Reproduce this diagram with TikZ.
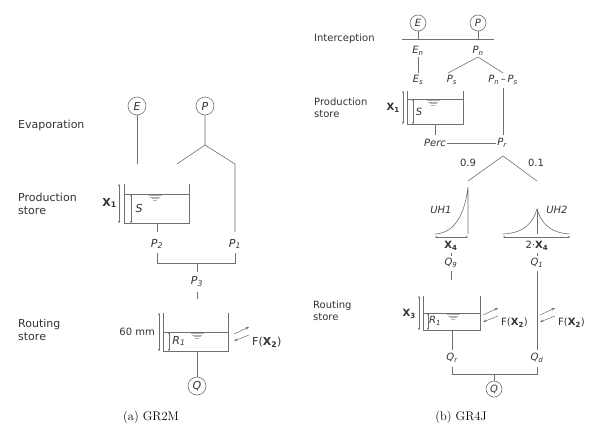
\documentclass[tikz,border=0pt]{standalone}
\usepackage{fontspec}
\newfontfamily\dvs{DejaVu Sans}
\usetikzlibrary{arrows.meta}
\definecolor{lc}{HTML}{707070}
\definecolor{tc}{HTML}{333333}
\newcommand\bX[1]{\textbf{X\textsubscript{#1}}}
\newcommand\iv[2]{\textit{#1\textsubscript{#2}}}
\tikzset{
  ln/.style={draw=lc, line width=0.6pt},
  dim/.style={ln, {Stealth[length=2pt,width=2pt]}-{Stealth[length=2pt,width=2pt]}},
  fa/.style={draw=lc, line width=0.5pt, -{Stealth[length=3.5pt,width=2.6pt]}},
  lblA/.style={text=tc, inner sep=0pt, font=\dvs\fontsize{11}{12.5}\selectfont},
  lblB/.style={text=tc, inner sep=0pt, font=\dvs\fontsize{10}{11.5}\selectfont},
  circA/.style={circle, ln, minimum size=18pt, inner sep=0pt, text=tc, font=\dvs\itshape\fontsize{11}{12}\selectfont},
  circB/.style={circle, ln, minimum size=16pt, inner sep=0pt, text=tc, font=\dvs\itshape\fontsize{10}{11}\selectfont},
  captext/.style={inner sep=0pt, font=\fontsize{12.5}{14}\selectfont},
  wat/.style={draw=gray!60, line width=0.9pt}
}
\newcommand\water[2]{%
  \draw[wat] (#1-6.5,#2+1.5) -- (#1+6.5,#2+1.5);
  \draw[wat] (#1-5,#2+3) -- (#1+5,#2+3);
  \draw[wat] (#1-3.5,#2+4.5) -- (#1+3.5,#2+4.5);
  \draw[wat] (#1-2,#2+6) -- (#1+2,#2+6);}
\begin{document}
\begin{tikzpicture}[x=1pt,y=-1pt]
\path[use as bounding box, fill=white] (0,0) rectangle (589,429);

% ===================== (a) GR2M =====================
\node[lblA, anchor=west] (evap) at (18,125) {Evaporation};
\node[lblA, anchor=west, align=left] (prodA) at (18,204) {Production\\store};
\node[lblA, anchor=west, align=left] (routA) at (18,330) {Routing\\store};

\node[circA] (EA) at (137,106) {E};
\node[circA] (PA) at (205,106) {P};
\coordinate (EAend) at (137,164);
\draw[ln] (EA) -- (EAend);
\coordinate (JA) at (205,145);
\coordinate (JAl) at (177,164);
\coordinate (JAr) at (235,164);
\coordinate (P1top) at (235,232);
\draw[ln] (PA) -- (JA) -- (JAl);
\draw[ln] (JA) -- (JAr) -- (P1top);

% production store
\draw[ln] (124,184) -- (124,223) -- (189,223) -- (189,184);
\draw[ln] (124,194) -- (189,194);
\draw[dim] (131,194) -- (131,223);
\draw[dim] (119,184) -- (119,223);
\node[lblA, anchor=east] (X1A) at (117,203) {\bX{1}};
\node[lblA] (SA) at (139,208) {\itshape S};
\water{155}{194}

\node[lblA] (P2A) at (157,244) {\iv{P}{2}};
\node[lblA] (P1A) at (235,244) {\iv{P}{1}};
\node[lblA] (P3A) at (197,282) {\iv{P}{3}};
\coordinate (storeAout) at (157,223);
\coordinate (P2Atop) at (157,232);
\draw[ln] (storeAout) -- (P2Atop);
\coordinate (P2Abot) at (157,253);
\coordinate (P1Abot) at (235,253);
\draw[ln] (P2Abot) -- (157,263) -- (235,263) -- (P1Abot);
\draw[ln] (197,263) -- (197,272);
\draw[ln] (197,292) -- (197,299);

% routing store
\draw[ln] (163,313) -- (163,351) -- (228,351) -- (228,313);
\draw[ln] (163,332) -- (228,332);
\draw[dim] (169,332) -- (169,351);
\draw[dim] (159,313) -- (159,351);
\node[lblA, anchor=east, font=\dvs\fontsize{10}{11}\selectfont] (mmA) at (155,332) {60 mm};
\node[lblA] (R1A) at (179,341) {\iv{R}{1}};
\water{197}{332}
\draw[fa] (234,334) -- (249,327);
\draw[fa] (249,335) -- (234,341);
\node[lblA, anchor=west] (FA) at (252,342) {F(\bX{2})};

\node[circA] (QA) at (197,386) {Q};
\coordinate (storeAout2) at (197,351);
\draw[ln] (storeAout2) -- (QA);

\node[captext] (capA) at (151,417) {(a) GR2M};

% ===================== (b) GR4J =====================
\node[lblB, anchor=west] (inter) at (314,39) {Interception};
\node[lblB, anchor=west, align=left] (prodB) at (314,108) {Production\\store};
\node[lblB, anchor=west, align=left] (routB) at (313,311) {Routing\\store};

\node[circB] (EB) at (418,23) {E};
\node[circB] (PB) at (478,23) {P};
\coordinate (ILl) at (402,39);
\coordinate (ILr) at (494,39);
\draw[ln] (ILl) -- (ILr);
\draw[ln] (EB) -- (418,39);
\draw[ln] (PB) -- (478,39);

\node[lblB] (En) at (418,51) {\iv{E}{n}};
\node[lblB] (Pn) at (478,51) {\iv{P}{n}};
\draw[ln] (418,57) -- (418,73);
\node[lblB] (Es) at (418,80) {\iv{E}{s}};
\coordinate (apexB) at (478,57);
\draw[ln] (448,73) -- (apexB) -- (503,73);
\node[lblB] (Ps) at (452,80) {\iv{P}{s}};
\node[lblB] (PnPs) at (503,80) {\iv{P}{n}\,–\,\iv{P}{s}};

% production store
\draw[ln] (407,91) -- (407,124) -- (463,124) -- (463,91);
\draw[ln] (407,99) -- (463,99);
\draw[dim] (413,99) -- (413,124);
\draw[dim] (403,91) -- (403,124);
\node[lblB, anchor=east] (X1B) at (400,108) {\bX{1}};
\node[lblB] (SB) at (419,112) {\itshape S};
\water{433}{99}

\draw[ln] (503,88) -- (503,135);
\draw[ln] (435,124) -- (435,135);
\node[lblB] (Perc) at (435,143) {\itshape Perc};
\node[lblB] (Pr) at (502,143) {\iv{P}{r}};
\draw[ln] ([xshift=1pt]Perc.east) -- ([xshift=-1pt]Pr.west);

\coordinate (apexR) at (503,156);
\draw[ln] (468,181) -- (apexR) -- (537,181);
\node[lblB] (n09) at (468,163) {0.9};
\node[lblB] (n01) at (536,163) {0.1};

% UH1
\draw[ln] (435,234) .. controls (456,233) and (465,212) .. (468,187) -- (468,234);
\draw[dim] (435,237) -- (468,237);
\node[lblB] (UH1) at (441,210) {\itshape UH1};
\node[lblB] (X4a) at (451,246) {\bX{4}};
% UH2
\draw[ln] (503,234) .. controls (525,233) and (533,222) .. (537,209)
          .. controls (541,222) and (549,233) .. (570,234);
\draw[ln] (537,209) -- (537,234);
\draw[dim] (503,237) -- (570,237);
\node[lblB] (UH2) at (557,210) {\itshape UH2};
\node[lblB] (X4b) at (537,246) {2·\bX{4}};

\node[lblB] (Q9) at (451,263) {\iv{Q}{9}};
\node[lblB] (Q1) at (537,263) {\iv{Q}{1}};
\draw[ln] (451,253) -- (451,256);
\draw[ln] (537,253) -- (537,256);
\draw[ln] (451,271) -- (451,280);
\draw[ln] (537,271) -- (537,350);

% routing store
\draw[ln] (423,296) -- (423,330) -- (480,330) -- (480,296);
\draw[ln] (423,313) -- (480,313);
\draw[dim] (428,313) -- (428,330);
\draw[dim] (419,296) -- (419,330);
\node[lblB, anchor=east] (X3B) at (416,314) {\bX{3}};
\node[lblB] (R1B) at (435,321) {\iv{R}{1}};
\water{453}{313}

\draw[fa] (483,315) -- (498,308);
\draw[fa] (498,316) -- (483,322);
\node[lblB, anchor=west] (FB1) at (501,323) {F(\bX{2})};
\draw[fa] (540,315) -- (555,308);
\draw[fa] (555,316) -- (540,322);
\node[lblB, anchor=west] (FB2) at (558,323) {F(\bX{2})};

\draw[ln] (452,330) -- (452,350);
\node[lblB] (Qr) at (452,358) {\iv{Q}{r}};
\node[lblB] (Qd) at (537,358) {\iv{Q}{d}};
\draw[ln] (452,367) -- (452,374) -- (537,374) -- (537,367);
\node[circB] (QB) at (494,389) {Q};
\draw[ln] (494,374) -- (QB);

\node[captext] (capB) at (461,417) {(b) GR4J};
\end{tikzpicture}
\end{document}
